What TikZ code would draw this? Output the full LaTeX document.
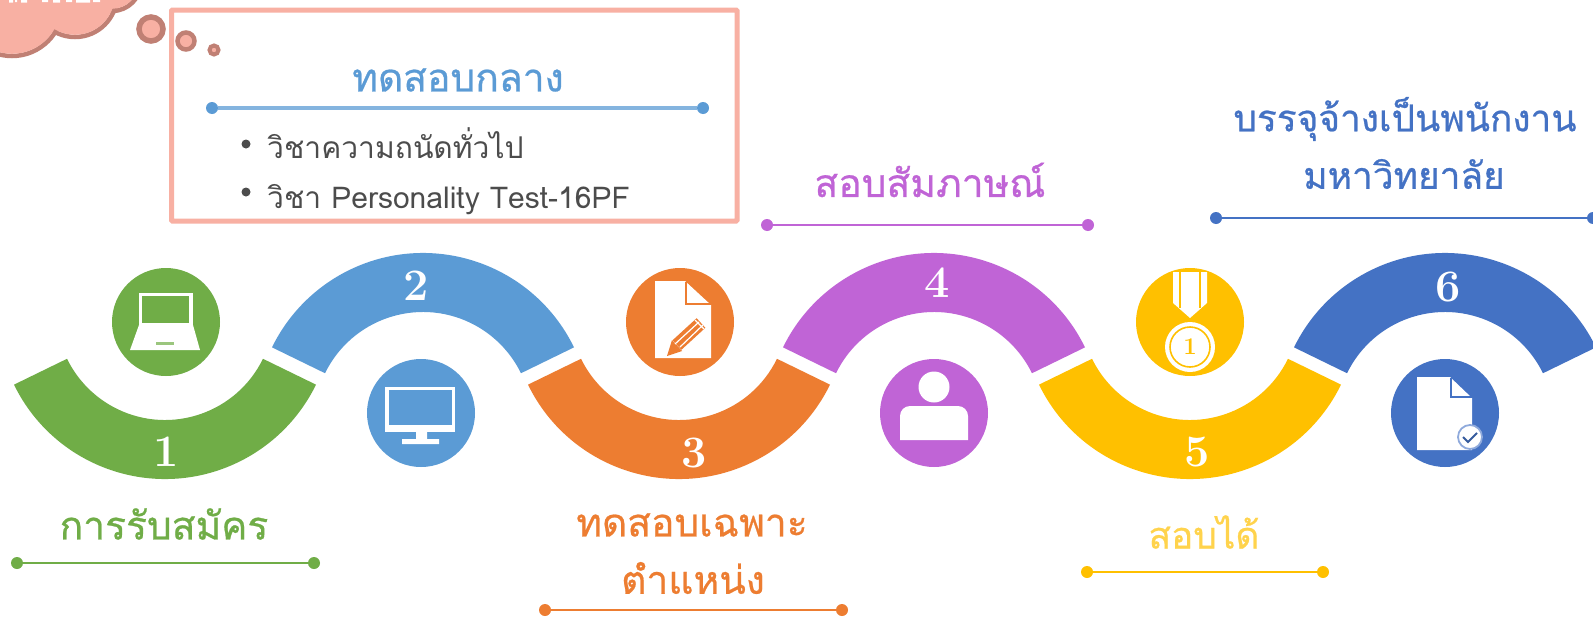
\documentclass[tikz,border=0pt]{standalone}
\usepackage{fontspec}
\newfontfamily\thaifont[Script=Thai]{Loma}
\newfontfamily\thaihead[Script=Thai,FakeBold=0.6]{Loma}
\definecolor{cgreen}{HTML}{70AD47}
\definecolor{cblue}{HTML}{5B9BD5}
\definecolor{corange}{HTML}{ED7D31}
\definecolor{cpurple}{HTML}{C064D6}
\definecolor{cyellow}{HTML}{FFC000}
\definecolor{cdark}{HTML}{4472C4}
\definecolor{cpink}{HTML}{F8B0A3}
\definecolor{cbrown}{HTML}{C08074}
\tikzset{
  roundel/.style={circle,minimum size=108pt,inner sep=0pt},
  num/.style={text=white,font=\bfseries\fontsize{45}{45}\selectfont,inner sep=0pt},
  endp/.style={circle,minimum size=12pt,inner sep=0pt},
  lab/.style={font=\thaihead\fontsize{39}{39}\selectfont,inner sep=0pt},
  labm/.style={font=\thaihead\fontsize{37}{37}\selectfont,inner sep=0pt},
  body/.style={font=\thaifont\fontsize{30}{30}\selectfont,text=black!70,inner sep=0pt,anchor=west},
  bub/.style={circle,draw=cbrown,fill=cpink,line width=4.5pt,inner sep=0pt}
}
\newcommand{\segdown}[2]{\fill[#2,shift={(#1,311)}] (206:168pt) arc[start angle=206,end angle=334,radius=168pt] -- (334:109pt) arc[start angle=334,end angle=206,radius=109pt] -- cycle;}
\newcommand{\segup}[2]{\fill[#2,shift={(#1,421)}] (26:168pt) arc[start angle=26,end angle=154,radius=168pt] -- (154:109pt) arc[start angle=154,end angle=26,radius=109pt] -- cycle;}
\begin{document}
\begin{tikzpicture}[x=1pt,y=-1pt]
\useasboundingbox (0,0) rectangle (1593,616);
\clip (0,0) rectangle (1593,616);
\fill[white] (0,0) rectangle (1593,616);
% cloud: stroked lobes, then their fills on top
\draw[cbrown,line width=4.5pt] (12,5) circle (51pt) (75,-5) circle (42pt) (112,-18) circle (29pt);
\fill[cpink] (12,5) circle (48.8pt) (75,-5) circle (39.8pt) (112,-18) circle (26.8pt);
\fill[white] (9,0) rectangle (13,2.5) (15,0) rectangle (17,2) (21,0) rectangle (27,2.5) (42,0) rectangle (48,2) (53,0) rectangle (60,2.5) (66,0) rectangle (72,2) (76,0) rectangle (90,2.5) (93,0) rectangle (100,2);
\node[bub,minimum size=24pt,line width=5.5pt] (b1) at (151,29) {};
\node[bub,minimum size=17pt] (b2) at (186,41) {};
\node[bub,minimum size=9pt,line width=4pt] (b3) at (214,50) {};
% box
\draw[cpink,line width=5pt,rounded corners=1pt] (171.5,10) rectangle (737,221);
\node[lab,text=cblue] (t0) at (458,80) {ทดสอบกลาง};
\node[endp,fill=cblue] (l0a) at (212,108) {};
\node[endp,fill=cblue] (l0b) at (703,108) {};
\draw[cblue!75,line width=3.5pt] (l0a) -- (l0b);
\fill[black!70] (246,144) circle (4.5pt) (246,192) circle (4.5pt);
\node[body] (b1t) at (267,143) {วิชาความถนัดทั่วไป};
\node[body] (b2t) at (267,200) {วิชา Personality Test-16PF};
% segments
\segdown{165}{cgreen}
\segup{423}{cblue}
\segdown{679}{corange}
\segup{934}{cpurple}
\segdown{1190}{cyellow}
\segup{1445}{cdark}
% numbers
\node[num] (n1) at (166,452) {1};
\node[num] (n2) at (416,286) {2};
\node[num] (n3) at (694,453) {3};
\node[num] (n4) at (937,283) {4};
\node[num] (n5) at (1197,452) {5};
\node[num] (n6) at (1448,287) {6};
% roundels
\node[roundel,fill=cgreen] (r1) at (166,322) {};
\node[roundel,fill=cblue] (r2) at (421,413) {};
\node[roundel,fill=corange] (r3) at (680,322) {};
\node[roundel,fill=cpurple] (r4) at (934,413) {};
\node[roundel,fill=cyellow] (r5) at (1190,322) {};
\node[roundel,fill=cdark] (r6) at (1445,413) {};
% laptop
\fill[white] (139,293) rectangle (193,325);
\fill[cgreen] (142,296) rectangle (189,323);
\fill[white] (139,325) -- (193,325) -- (200,350) -- (130,350) -- cycle;
\fill[cgreen!70!white] (156,342) rectangle (174,345);
% monitor
\fill[white] (385,387) rectangle (455,432);
\fill[cblue] (389,390) rectangle (452,425);
\fill[white] (416,432) rectangle (427,440) (402,439) rectangle (439,444);
% document + pencil
\fill[white] (655,281) -- (685,281) -- (711,305) -- (711,358) -- (655,358) -- cycle;
\draw[corange,line width=1.8pt,line join=miter] (686,282) -- (686,304) -- (711,304);
\draw[corange,line width=13pt] (701,323) -- (677,345);
\fill[corange] (672,340) -- (682,351) -- (667,356) -- cycle;
\draw[white,line width=1.2pt] (699,322) -- (675,344);
\draw[white,line width=1.2pt] (703,325) -- (680,347);
\draw[white,line width=1.2pt] (695,320) -- (704,329);
% person
\fill[white] (934,387) circle (15.5pt);
\fill[white] (900,440) -- (900,416) [rounded corners=10pt] -- (900,406) -- (968,406) [sharp corners] -- (968,440) -- cycle;
% medal
\fill[white] (1173,272) -- (1207,272) -- (1207,303) -- (1190,318) -- (1173,303) -- cycle;
\draw[cyellow,line width=1.6pt] (1180,272) -- (1180,308) (1200,272) -- (1200,308);
\fill[white] (1190,347) circle (25pt);
\draw[cyellow,line width=1.6pt] (1190,347) circle (20pt);
\node[font=\bfseries\fontsize{24}{24}\selectfont,text=cyellow,inner sep=0pt] (m1) at (1190,347) {1};
% document + check
\fill[white] (1417,377) -- (1450,377) -- (1472,398) -- (1472,450) -- (1417,450) -- cycle;
\draw[cdark,line width=1.8pt] (1451,378) -- (1451,397) -- (1472,397);
\fill[white,draw=cdark!60!white,line width=1.8pt] (1470,437) circle (12pt);
\draw[cdark!80!black,line width=2pt] (1463,437) -- (1468,442) -- (1477,433);
% labels
\node[lab,text=cgreen] (t1) at (164,524) {การรับสมัคร};
\node[lab,text=corange] (t3a) at (692,525) {ทดสอบเฉพาะ};
\node[lab,text=corange] (t3b) at (693,578) {ตำแหน่ง};
\node[lab,text=cpurple] (t4) at (930,180) {สอบสัมภาษณ์};
\node[labm,text=cyellow!70!white] (t5) at (1204,532) {สอบได้};
\node[labm,text=cdark] (t6a) at (1405,119) {บรรจุจ้างเป็นพนักงาน};
\node[labm,text=cdark] (t6b) at (1404,174) {มหาวิทยาลัย};
% rules
\foreach \nm/\col/\xa/\xb/\yy in {1/cgreen/17/314/563,3/corange/545/842/610,4/cpurple/767/1088/225,5/cyellow/1087/1323/572,6/cdark/1216/1593/218}{
  \node[endp,fill=\col] (p\nm a) at (\xa,\yy) {};
  \node[endp,fill=\col] (p\nm b) at (\xb,\yy) {};
  \draw[\col,line width=2.8pt] (p\nm a) -- (p\nm b);
}
\end{tikzpicture}
\end{document}
